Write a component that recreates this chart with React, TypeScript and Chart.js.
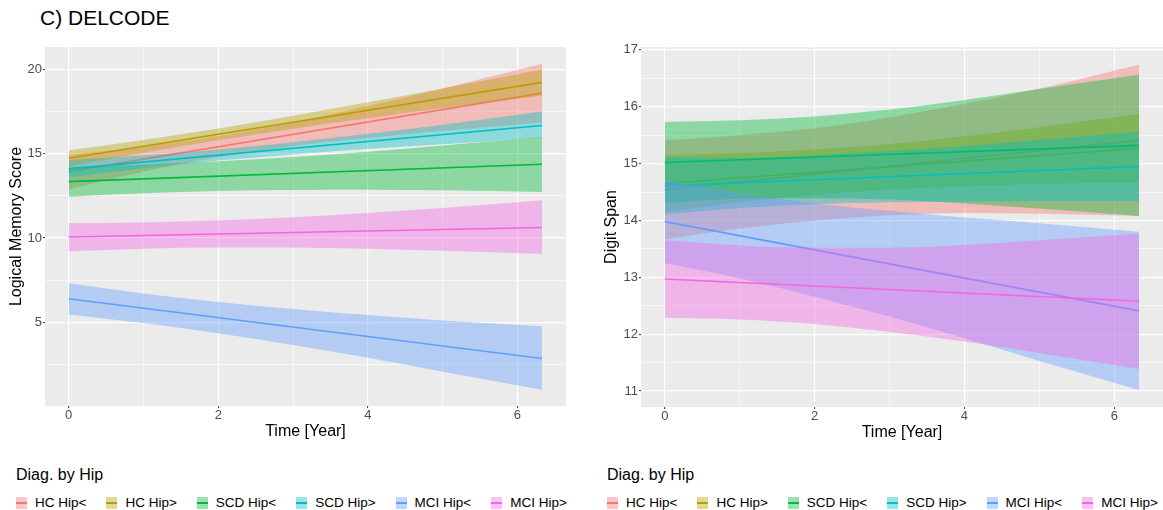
import React, { useEffect, useRef } from 'react';
import { Chart, registerables } from 'chart.js';

Chart.register(...registerables);

const FONT = "'Liberation Sans', Arial, Helvetica, sans-serif";

// ---- categories ----
const groups = ['HC Hip<', 'HC Hip>', 'SCD Hip<', 'SCD Hip>', 'MCI Hip<', 'MCI Hip>'];
const groupColors = ['#F8766D', '#B79F00', '#00BA38', '#00BFC4', '#619CFF', '#F564E3'];

// ---- x positions (years) ----
const bandYears = [0, 1, 2, 3, 4, 5, 6.33];
const lineYears = [0, 6.33];
const xTickValues = [0, 1, 2, 3, 4, 5, 6];
const xTickLabels = ['0', '', '2', '', '4', '', '6'];

// ---- tick labels ----
const lmTickValues = [2.5, 5, 7.5, 10, 12.5, 15, 17.5, 20];
const lmTickLabels = ['', '5', '', '10', '', '15', '', '20'];
const dsTickValues = [11, 11.5, 12, 12.5, 13, 13.5, 14, 14.5, 15, 15.5, 16, 16.5, 17];
const dsTickLabels = ['11', '', '12', '', '13', '', '14', '', '15', '', '16', '', '17'];

// ---- Logical Memory Score (left panel) ----
const lmMeanHCLow = [13.95, 18.61];
const lmUpperHCLow = [14.95, 15.43, 16.04, 16.86, 17.84, 18.88, 20.36];
const lmLowerHCLow = [12.9, 13.95, 14.8, 15.46, 15.94, 16.38, 16.86];
const lmMeanHCHigh = [14.74, 19.25];
const lmUpperHCHigh = [15.22, 15.83, 16.51, 17.26, 18.06, 18.88, 20.01];
const lmLowerHCHigh = [14.26, 15.07, 15.81, 16.5, 17.12, 17.72, 18.45];
const lmMeanSCDLow = [13.35, 14.38];
const lmUpperSCDLow = [14.24, 14.36, 14.56, 14.82, 15.13, 15.5, 16.0];
const lmLowerSCDLow = [12.46, 12.66, 12.8, 12.86, 12.87, 12.84, 12.74];
const lmMeanSCDHigh = [14.11, 16.69];
const lmUpperSCDHigh = [14.63, 14.9, 15.26, 15.69, 16.19, 16.73, 17.52];
const lmLowerSCDHigh = [13.6, 14.14, 14.6, 14.97, 15.29, 15.57, 15.97];
const lmMeanMCILow = [6.39, 2.84];
const lmUpperMCILow = [7.32, 6.71, 6.2, 5.78, 5.42, 5.1, 4.76];
const lmLowerMCILow = [5.46, 4.95, 4.34, 3.64, 2.88, 2.06, 0.99];
const lmMeanMCIHigh = [10.06, 10.63];
const lmUpperMCIHigh = [10.89, 10.93, 11.04, 11.23, 11.48, 11.78, 12.24];
const lmLowerMCIHigh = [9.21, 9.37, 9.44, 9.43, 9.36, 9.24, 9.05];

// ---- Digit Span (right panel) ----
const dsMeanHCLow = [14.54, 15.41];
const dsUpperHCLow = [15.41, 15.5, 15.62, 15.81, 16.05, 16.32, 16.74];
const dsLowerHCLow = [13.67, 13.86, 14.0, 14.09, 14.13, 14.12, 14.08];
const dsMeanHCHigh = [14.65, 15.27];
const dsUpperHCHigh = [15.15, 15.18, 15.25, 15.34, 15.48, 15.64, 15.87];
const dsLowerHCHigh = [14.15, 14.32, 14.45, 14.54, 14.6, 14.64, 14.67];
const dsMeanSCDLow = [15.02, 15.32];
const dsUpperSCDLow = [15.73, 15.76, 15.83, 15.95, 16.12, 16.31, 16.56];
const dsLowerSCDLow = [14.31, 14.38, 14.39, 14.37, 14.3, 14.21, 14.08];
const dsMeanSCDHigh = [14.61, 14.95];
const dsUpperSCDHigh = [15.11, 15.1, 15.15, 15.22, 15.31, 15.42, 15.56];
const dsLowerSCDHigh = [14.11, 14.22, 14.29, 14.32, 14.33, 14.34, 14.34];
const dsMeanMCILow = [13.98, 12.41];
const dsUpperMCILow = [14.71, 14.48, 14.3, 14.17, 14.05, 13.95, 13.8];
const dsLowerMCILow = [13.25, 12.98, 12.66, 12.31, 11.93, 11.53, 11.02];
const dsMeanMCIHigh = [12.97, 12.58];
const dsUpperMCIHigh = [13.65, 13.56, 13.52, 13.52, 13.57, 13.65, 13.77];
const dsLowerMCIHigh = [12.29, 12.26, 12.18, 12.04, 11.87, 11.67, 11.39];

function rgba(hex: string, a: number) {
  const n = parseInt(hex.slice(1), 16);
  return `rgba(${(n >> 16) & 255},${(n >> 8) & 255},${n & 255},${a})`;
}

type Spec = {
  means: number[][];
  uppers: number[][];
  lowers: number[][];
  yMin: number;
  yMax: number;
  yTickValues: number[];
  yTickLabels: string[];
  yTitle: string;
  yAxisWidth: number;
  yTitlePad: number;
  padRight: number;
  left: number;
  top: number;
  width: number;
  height: number;
};

const leftSpec: Spec = {
  means: [lmMeanHCLow, lmMeanHCHigh, lmMeanSCDLow, lmMeanSCDHigh, lmMeanMCILow, lmMeanMCIHigh],
  uppers: [lmUpperHCLow, lmUpperHCHigh, lmUpperSCDLow, lmUpperSCDHigh, lmUpperMCILow, lmUpperMCIHigh],
  lowers: [lmLowerHCLow, lmLowerHCHigh, lmLowerSCDLow, lmLowerSCDHigh, lmLowerMCILow, lmLowerMCIHigh],
  yMin: 0.02,
  yMax: 21.35,
  yTickValues: lmTickValues,
  yTickLabels: lmTickLabels,
  yTitle: 'Logical Memory Score',
  yAxisWidth: 45,
  yTitlePad: 7,
  padRight: 14,
  left: 0,
  top: 35,
  width: 580,
  height: 415,
};

const rightSpec: Spec = {
  means: [dsMeanHCLow, dsMeanHCHigh, dsMeanSCDLow, dsMeanSCDHigh, dsMeanMCILow, dsMeanMCIHigh],
  uppers: [dsUpperHCLow, dsUpperHCHigh, dsUpperSCDLow, dsUpperSCDHigh, dsUpperMCILow, dsUpperMCIHigh],
  lowers: [dsLowerHCLow, dsLowerHCHigh, dsLowerSCDLow, dsLowerSCDHigh, dsLowerMCILow, dsLowerMCIHigh],
  yMin: 10.72,
  yMax: 17.05,
  yTickValues: dsTickValues,
  yTickLabels: dsTickLabels,
  yTitle: 'Digit Span',
  yAxisWidth: 51,
  yTitlePad: 11.5,
  padRight: 0,
  left: 590,
  top: 35,
  width: 573,
  height: 416,
};

const panelBg = {
  id: 'panelBg',
  beforeDraw(chart: any) {
    const { ctx, chartArea: a } = chart;
    ctx.save();
    ctx.fillStyle = '#EBEBEB';
    ctx.fillRect(a.left, a.top, a.right - a.left, a.bottom - a.top);
    ctx.restore();
  },
};

function buildDatasets(spec: Spec) {
  const ds: any[] = [];
  groups.forEach((g, i) => {
    const base = i * 3;
    const color = groupColors[i];
    ds.push({
      label: g + ' lower',
      data: bandYears.map((x, j) => ({ x, y: spec.lowers[i][j] })),
      borderColor: 'rgba(0,0,0,0)',
      borderWidth: 0,
      pointRadius: 0,
      fill: false,
      cubicInterpolationMode: 'monotone',
      order: 100 - base,
    });
    ds.push({
      label: g + ' band',
      data: bandYears.map((x, j) => ({ x, y: spec.uppers[i][j] })),
      borderColor: 'rgba(0,0,0,0)',
      borderWidth: 0,
      pointRadius: 0,
      fill: base,
      backgroundColor: rgba(color, 0.4),
      cubicInterpolationMode: 'monotone',
      order: 100 - base - 1,
    });
    ds.push({
      label: g,
      data: lineYears.map((x, j) => ({ x, y: spec.means[i][j] })),
      borderColor: color,
      borderWidth: 1.6,
      pointRadius: 0,
      fill: false,
      order: 100 - base - 2,
    });
  });
  return ds;
}

function makeConfig(spec: Spec): any {
  const majorX = (idx: number) => xTickLabels[idx] !== '';
  const majorY = (idx: number) => spec.yTickLabels[idx] !== '';
  return {
    type: 'line',
    data: { datasets: buildDatasets(spec) },
    plugins: [panelBg],
    options: {
      responsive: false,
      animation: false,
      devicePixelRatio: 1,
      layout: { padding: { top: 12, right: spec.padRight, bottom: 0, left: 0 } },
      plugins: {
        legend: { display: false },
        tooltip: { enabled: false },
      },
      scales: {
        x: {
          type: 'linear',
          min: -0.317,
          max: 6.65,
          afterBuildTicks: (s: any) => {
            s.ticks = xTickValues.map((v) => ({ value: v }));
          },
          afterFit: (s: any) => {
            s.height = 44;
          },
          ticks: {
            autoSkip: false,
            maxRotation: 0,
            padding: 1,
            color: '#4D4D4D',
            font: { family: FONT, size: 13, lineHeight: 1 },
            callback: (_v: any, idx: number) => xTickLabels[idx],
          },
          grid: {
            color: '#FFFFFF',
            lineWidth: (c: any) => (majorX(c.index) ? 1.2 : 0.6),
            drawTicks: true,
            tickLength: 2,
            tickWidth: 1,
            tickColor: (c: any) => (majorX(c.index) ? '#333333' : 'rgba(0,0,0,0)'),
          },
          border: { display: false },
          title: {
            display: true,
            text: 'Time [Year]',
            color: '#000000',
            font: { family: FONT, size: 16 },
            padding: { top: 0, bottom: 9 },
          },
        },
        y: {
          type: 'linear',
          min: spec.yMin,
          max: spec.yMax,
          afterBuildTicks: (s: any) => {
            s.ticks = spec.yTickValues.map((v) => ({ value: v }));
          },
          afterFit: (s: any) => {
            s.width = spec.yAxisWidth;
          },
          ticks: {
            autoSkip: false,
            padding: 1,
            color: '#4D4D4D',
            font: { family: FONT, size: 13, lineHeight: 1 },
            callback: (_v: any, idx: number) => spec.yTickLabels[idx],
          },
          grid: {
            color: '#FFFFFF',
            lineWidth: (c: any) => (majorY(c.index) ? 1.2 : 0.6),
            drawTicks: true,
            tickLength: 2,
            tickWidth: 1,
            tickColor: (c: any) => (majorY(c.index) ? '#333333' : 'rgba(0,0,0,0)'),
          },
          border: { display: false },
          title: {
            display: true,
            text: spec.yTitle,
            color: '#000000',
            font: { family: FONT, size: 16 },
            padding: { top: spec.yTitlePad, bottom: 0 },
          },
        },
      },
    },
  };
}

function Panel({ spec }: { spec: Spec }) {
  const ref = useRef<HTMLCanvasElement>(null);
  useEffect(() => {
    const chart = new Chart(ref.current as HTMLCanvasElement, makeConfig(spec));
    return () => chart.destroy();
  }, [spec]);
  return (
    <canvas
      ref={ref}
      width={spec.width}
      height={spec.height}
      style={{ position: 'absolute', left: spec.left, top: spec.top, width: spec.width, height: spec.height }}
    />
  );
}

function Legend({ left }: { left: number }) {
  return (
    <div style={{ position: 'absolute', left, top: 465, fontFamily: FONT, color: '#000' }}>
      <div style={{ fontSize: 16, lineHeight: '20px', whiteSpace: 'nowrap' }}>Diag. by Hip</div>
      <div style={{ display: 'flex', alignItems: 'center', marginTop: 11, height: 14, whiteSpace: 'nowrap' }}>
        {groups.map((g, i) => (
          <div key={g} style={{ display: 'flex', alignItems: 'center', marginRight: 20 }}>
            <div
              style={{
                width: 11,
                height: 12,
                background: rgba(groupColors[i], 0.4),
                position: 'relative',
              }}
            >
              <div
                style={{
                  position: 'absolute',
                  left: 0,
                  right: 0,
                  top: 5,
                  height: 2,
                  background: groupColors[i],
                }}
              />
            </div>
            <span style={{ marginLeft: 8, fontSize: 13.5, lineHeight: '14px' }}>{g}</span>
          </div>
        ))}
      </div>
    </div>
  );
}

export default function App() {
  return (
    <div
      style={{
        position: 'absolute',
        left: 0,
        top: 0,
        width: 1163,
        height: 510,
        background: '#FFFFFF',
        overflow: 'hidden',
      }}
    >
      <div
        style={{
          position: 'absolute',
          left: 40,
          top: 6,
          fontFamily: FONT,
          fontSize: 21,
          lineHeight: '24px',
          color: '#000',
          whiteSpace: 'nowrap',
        }}
      >
        C) DELCODE
      </div>
      <Panel spec={leftSpec} />
      <Panel spec={rightSpec} />
      <Legend left={16} />
      <Legend left={607} />
    </div>
  );
}
